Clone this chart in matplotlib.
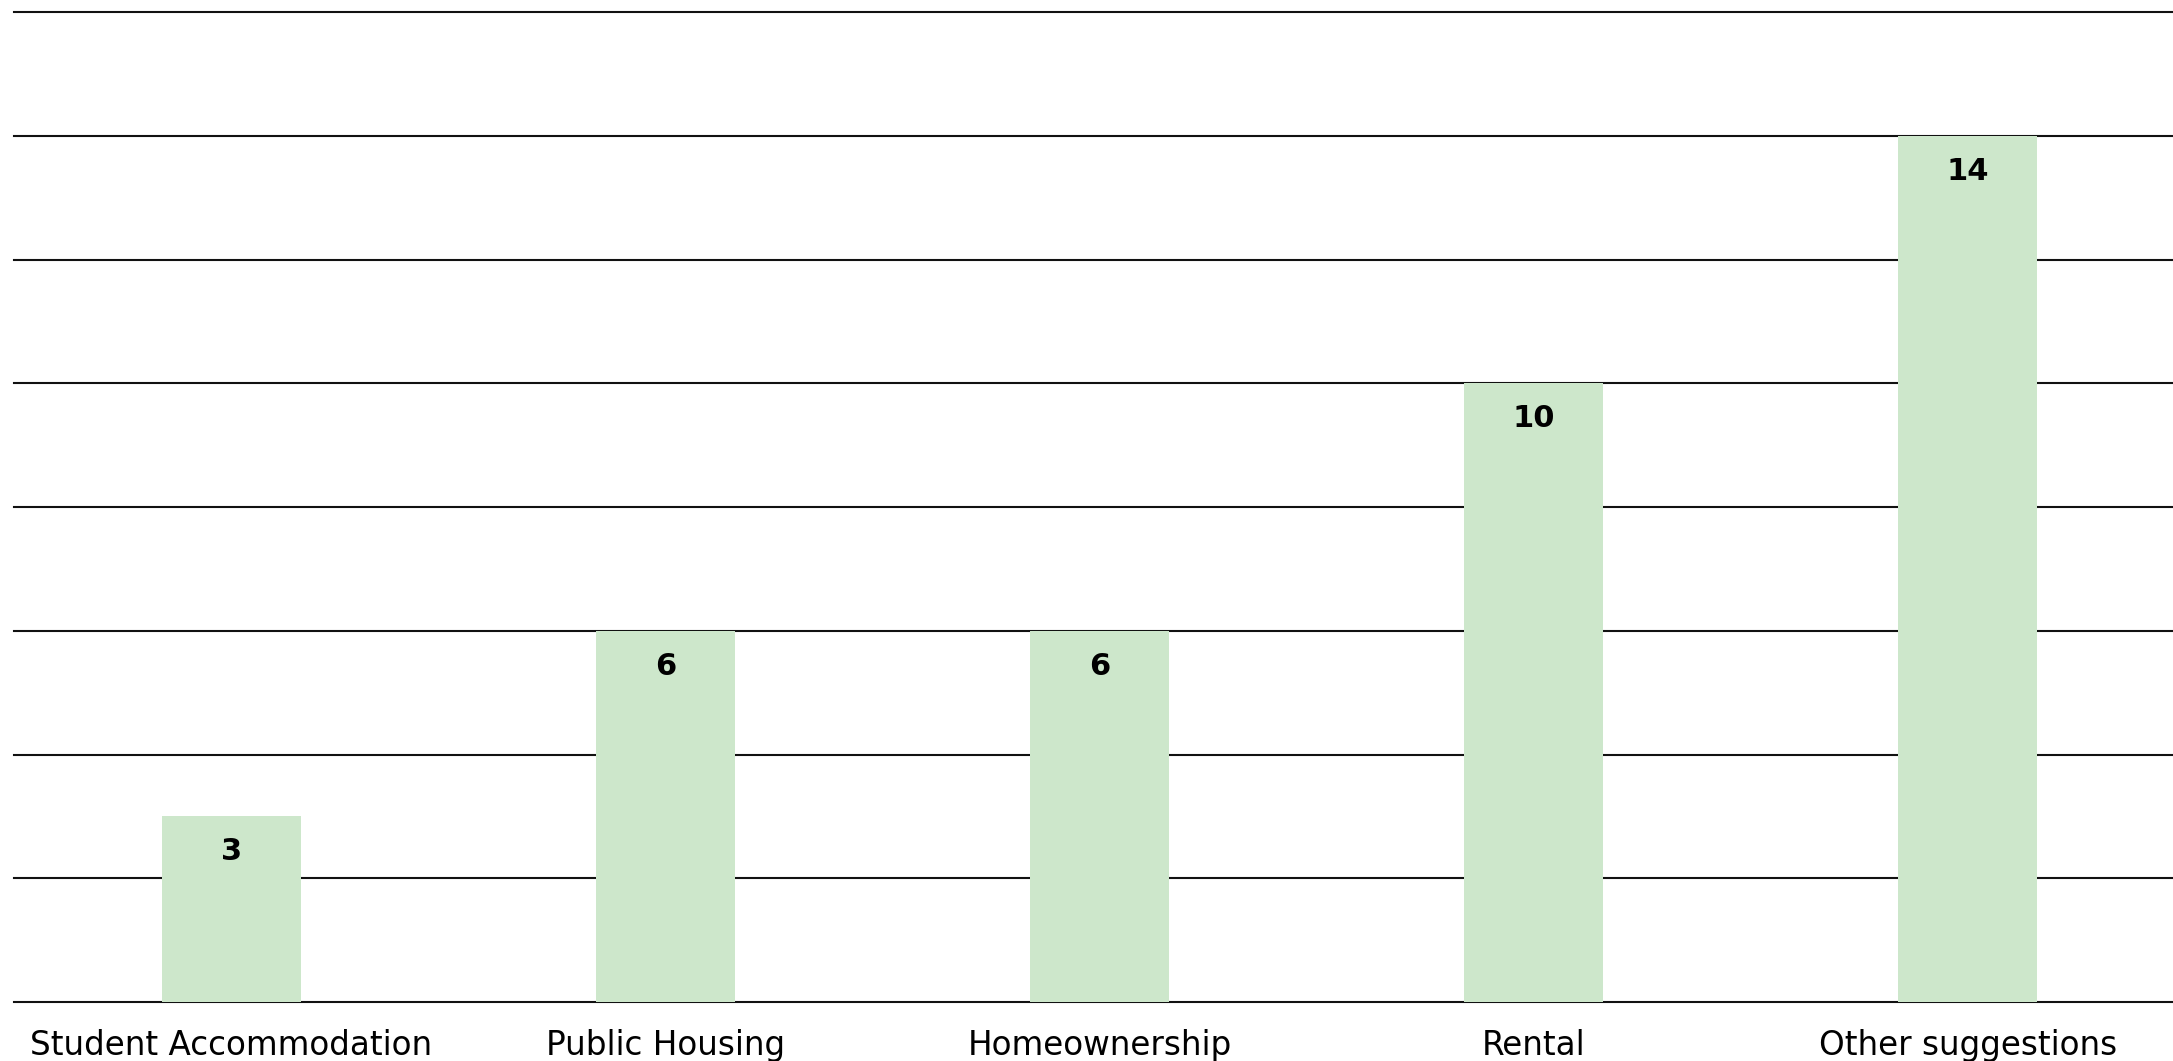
import matplotlib
matplotlib.use("Agg")
import matplotlib.pyplot as plt
import numpy as np

# housing topics and number of responses for each
categories = ["Student Accommodation", "Public Housing", "Homeownership", "Rental", "Other suggestions"]
counts = [3, 6, 6, 10, 14]

bar_color = "#cde7cb"
plt.rcParams["font.family"] = ["DejaVu Sans"]

fig = plt.figure(figsize=(21.73, 10.61), dpi=100)
ax = fig.add_axes([14 / 2173, 59 / 1061, (2185 - 14) / 2173, (1049 - 59) / 1061])

x = np.arange(len(categories))
ax.bar(x, counts, width=0.32, color=bar_color, zorder=3)

for xi, c in zip(x, counts):
    ax.text(xi, c - 0.57, str(c), ha="center", va="center",
            fontsize=22, fontweight="bold", color="black", zorder=4)

ax.set_xlim(-0.5, len(categories) - 0.5)
ax.set_ylim(0, 16)
ax.set_yticks(np.arange(0, 17, 2))
ax.yaxis.grid(True, color="#111111", linewidth=1.5, zorder=1)
for gl in ax.get_ygridlines():
    gl.set_clip_on(False)
ax.tick_params(axis="y", left=False, labelleft=False)
ax.tick_params(axis="x", bottom=False, pad=16)
ax.set_xticks(x)
ax.set_xticklabels(categories, fontsize=23.5)
for s in ax.spines.values():
    s.set_visible(False)

fig.savefig("out.png", dpi=100)
